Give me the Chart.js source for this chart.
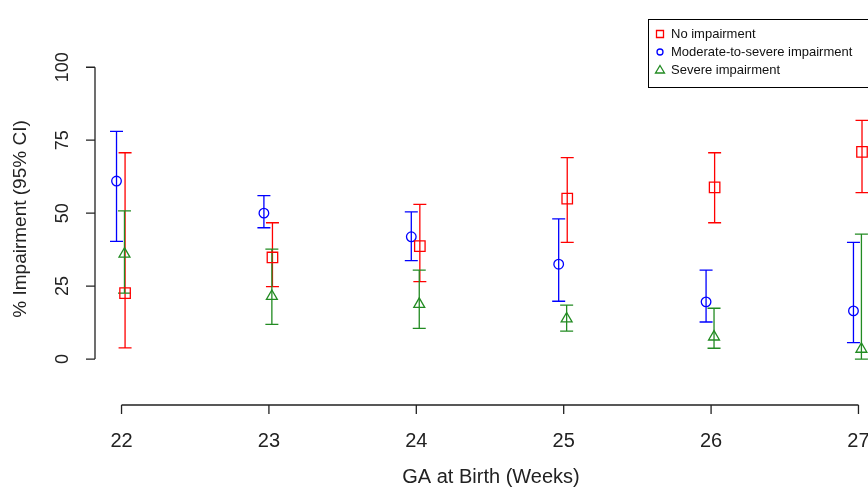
<!DOCTYPE html>
<html>
<head>
<meta charset="utf-8">
<script src="https://cdn.jsdelivr.net/npm/chart.js@4/dist/chart.umd.min.js"></script>
<style>
html, body { margin: 0; padding: 0; background: #fff; overflow: hidden; }
#wrap { position: relative; width: 900px; height: 489px; }
</style>
</head>
<body>
<div id="wrap"><canvas id="gaChart"></canvas></div>
<script>
const weeks = [22, 23, 24, 25, 26, 27]
const yTicks = [0, 25, 50, 75, 100]

// No impairment
const noImp = [22.6, 34.8, 38.7, 55, 58.8, 71]
const noImpLow = [3.8, 24.8, 26.5, 40, 46.7, 57]
const noImpHigh = [70.7, 46.7, 53, 69, 70.7, 81.8]

// Moderate-to-severe impairment
const modSev = [61, 50, 41.9, 32.5, 19.6, 16.5]
const modSevLow = [40.3, 45, 33.7, 19.8, 12.7, 5.6]
const modSevHigh = [78, 56, 50.4, 48, 30.5, 40]

// Severe impairment
const severe = [36, 21.5, 18.8, 13.8, 7.6, 3.4]
const severeLow = [22.6, 11.9, 10.5, 9.6, 3.7, 0]
const severeHigh = [50.8, 37.7, 30.5, 18.5, 17.4, 42.8]

const RED = '#ff0000', BLUE = '#0000ff', GREEN = '#228b22'
const FONT = '"Liberation Sans", Arial, sans-serif'

function makeSeries(vals, lo, hi, shift) {
  return weeks.map((w, i) => ({ x: w + shift, y: vals[i], lo: lo[i], hi: hi[i] }))
}

const series = [
  { label: 'No impairment', color: RED, style: 'rect', radius: 7.4, data: makeSeries(noImp, noImpLow, noImpHigh, 0.024) },
  { label: 'Moderate-to-severe impairment', color: BLUE, style: 'circle', radius: 4.8, data: makeSeries(modSev, modSevLow, modSevHigh, -0.034) },
  { label: 'Severe impairment', color: GREEN, style: 'triangle', radius: 6.3, data: makeSeries(severe, severeLow, severeHigh, 0.02) }
]

// error bars with caps
const errorBars = {
  id: 'errorBars',
  beforeDatasetsDraw(chart) {
    const { ctx, scales: { x, y } } = chart
    ctx.save()
    ctx.lineWidth = 1.3
    chart.data.datasets.forEach(ds => {
      ctx.strokeStyle = ds.borderColor
      ds.data.forEach(p => {
        const px = x.getPixelForValue(p.x)
        const top = y.getPixelForValue(p.hi)
        const bot = y.getPixelForValue(p.lo)
        ctx.beginPath()
        ctx.moveTo(px, top); ctx.lineTo(px, bot)
        ctx.moveTo(px - 6.5, top); ctx.lineTo(px + 6.5, top)
        ctx.moveTo(px - 6.5, bot); ctx.lineTo(px + 6.5, bot)
        ctx.stroke()
      })
    })
    ctx.restore()
  }
}

// R style axes, titles and legend box
const rAxes = {
  id: 'rAxes',
  afterDraw(chart) {
    const { ctx, scales: { x, y } } = chart
    ctx.save()
    ctx.strokeStyle = '#222'
    ctx.fillStyle = '#222'
    ctx.lineWidth = 1.3

    // y axis
    const ax = 95
    ctx.beginPath()
    ctx.moveTo(ax, y.getPixelForValue(yTicks[0]))
    ctx.lineTo(ax, y.getPixelForValue(yTicks[yTicks.length - 1]))
    yTicks.forEach(t => {
      const py = y.getPixelForValue(t)
      ctx.moveTo(ax, py); ctx.lineTo(ax - 9, py)
    })
    ctx.stroke()
    ctx.textAlign = 'center'
    ctx.textBaseline = 'middle'
    ctx.font = '18px ' + FONT
    yTicks.forEach(t => {
      ctx.save()
      ctx.translate(63, y.getPixelForValue(t))
      ctx.rotate(-Math.PI / 2)
      ctx.fillText(String(t), 0, 0)
      ctx.restore()
    })
    ctx.font = '19px ' + FONT
    ctx.save()
    ctx.translate(21, y.getPixelForValue(48))
    ctx.rotate(-Math.PI / 2)
    ctx.fillText('% Impairment (95% CI)', 0, 0)
    ctx.restore()

    // x axis
    const ay = 405
    ctx.beginPath()
    ctx.moveTo(x.getPixelForValue(weeks[0]), ay)
    ctx.lineTo(x.getPixelForValue(weeks[weeks.length - 1]), ay)
    weeks.forEach(w => {
      const px = x.getPixelForValue(w)
      ctx.moveTo(px, ay); ctx.lineTo(px, ay + 9)
    })
    ctx.stroke()
    ctx.font = '20px ' + FONT
    weeks.forEach(w => ctx.fillText(String(w), x.getPixelForValue(w), 441))
    ctx.fillText('GA at Birth (Weeks)', 491, 477)

    // legend
    ctx.lineWidth = 1
    ctx.strokeStyle = '#000'
    ctx.strokeRect(648.5, 19.5, 240, 68)
    ctx.font = '13px ' + FONT
    ctx.textAlign = 'left'
    series.forEach((s, i) => {
      const ly = 34 + i * 18
      ctx.strokeStyle = s.color
      ctx.lineWidth = 1.3
      ctx.beginPath()
      if (s.style === 'rect') ctx.rect(656.5, ly - 3.5, 7, 7)
      else if (s.style === 'circle') ctx.arc(660, ly, 3, 0, Math.PI * 2)
      else { ctx.moveTo(660, ly - 4.5); ctx.lineTo(664.5, ly + 3); ctx.lineTo(655.5, ly + 3); ctx.closePath() }
      ctx.stroke()
      ctx.fillStyle = '#111'
      ctx.fillText(s.label, 671, ly)
    })
    ctx.restore()
  }
}

new Chart(document.getElementById('gaChart'), {
  type: 'scatter',
  data: {
    datasets: series.map(s => ({
      label: s.label,
      data: s.data,
      borderColor: s.color,
      backgroundColor: 'rgba(0,0,0,0)',
      pointStyle: s.style,
      pointRadius: s.radius,
      pointBorderWidth: 1.3,
      clip: false
    }))
  },
  options: {
    responsive: true,
    maintainAspectRatio: false,
    animation: false,
    layout: { padding: { left: 95, right: 15, top: 22, bottom: 84 } },
    plugins: { legend: { display: false }, tooltip: { enabled: false } },
    scales: {
      x: { type: 'linear', min: 21.82, max: 27.18, display: false },
      y: { type: 'linear', min: -15.75, max: 115.5, display: false }
    }
  },
  plugins: [errorBars, rAxes]
})
</script>
</body>
</html>
